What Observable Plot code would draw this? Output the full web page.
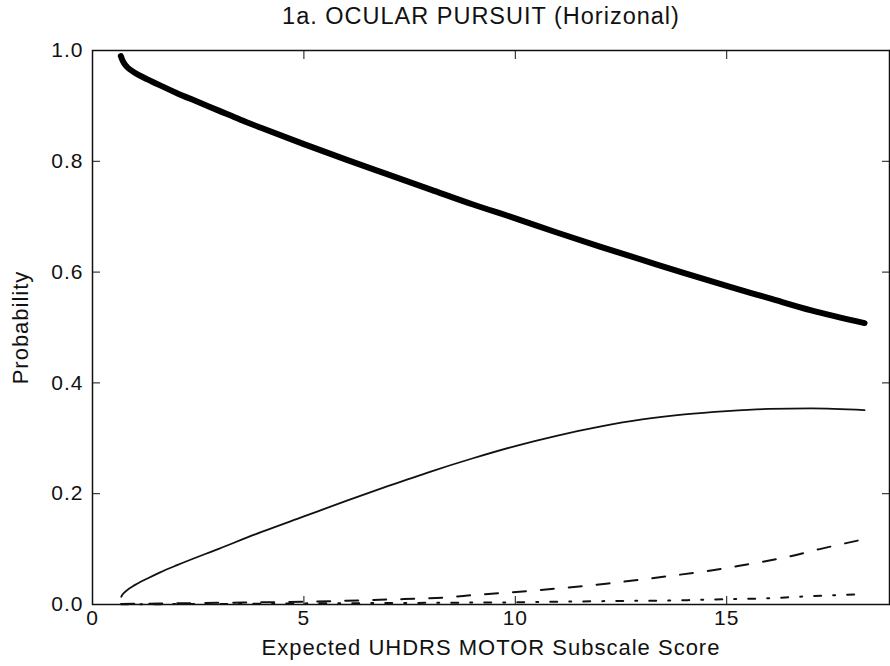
<!DOCTYPE html>
<html>
<head>
<meta charset="utf-8">
<script src="https://cdn.jsdelivr.net/npm/d3@7"></script>
<script src="https://cdn.jsdelivr.net/npm/@observablehq/plot@0.6"></script>
<style>
  body { margin: 0; background: #fff; }
  #chart { position: relative; width: 890px; height: 666px; font-family: "Liberation Sans", Arial, sans-serif; }
  #title { position: absolute; top: 1px; left: 0; width: 818px; padding-left: 72px; text-align: center; font-size: 23.5px; line-height: 30px; letter-spacing: 1px; white-space: nowrap; color: #111; }
  #chart svg text { letter-spacing: 1px; }
</style>
</head>
<body>
<div id="chart"><div id="title"></div></div>
<script>
// Text
const title = "1a. OCULAR PURSUIT (Horizonal)";
const xLabel = "Expected UHDRS MOTOR Subscale Score";
const yLabel = "Probability";
const xTicks = [0, 5, 10, 15];
const yTicks = [0, 0.2, 0.4, 0.6, 0.8, 1.0];

// Predicted probability of each item score along the expected motor score
const score0X = [0.67, 0.70, 0.74, 0.82, 1.0, 1.3, 1.6, 2.0, 2.5, 3.0, 3.5, 4.0, 5, 6, 7, 8, 9, 10, 11, 12, 13, 14, 15, 16, 17, 18.26];
const score0Y = [0.990, 0.984, 0.978, 0.970, 0.960, 0.948, 0.937, 0.923, 0.907, 0.891, 0.875, 0.860, 0.831, 0.803, 0.776, 0.749, 0.722, 0.697, 0.671, 0.646, 0.622, 0.598, 0.575, 0.553, 0.531, 0.508];

const score1X = [0.68, 0.72, 0.82, 1.0, 1.3, 1.6, 2, 3, 4, 5, 6, 7, 8, 9, 10, 11, 12, 13, 14, 15, 16, 17, 18.26];
const score1Y = [0.014, 0.019, 0.026, 0.035, 0.047, 0.058, 0.071, 0.101, 0.131, 0.159, 0.187, 0.214, 0.240, 0.264, 0.286, 0.305, 0.321, 0.334, 0.343, 0.349, 0.353, 0.354, 0.351];

const score2X = [0.68, 3, 5, 7, 8.4, 9.0, 10.4, 12.2, 13.7, 14.5, 15.3, 16.5, 17.2, 18.26];
const score2Y = [0.001, 0.003, 0.005, 0.009, 0.013, 0.017, 0.025, 0.038, 0.052, 0.060, 0.070, 0.087, 0.100, 0.118];

const score3X = [0.68, 3, 5, 8, 10, 12, 12.8, 13.6, 14.4, 15.1, 15.9, 16.7, 18.26];
const score3Y = [0.0005, 0.001, 0.002, 0.003, 0.004, 0.006, 0.0067, 0.007, 0.0085, 0.0096, 0.011, 0.014, 0.019];

const rows = (xs, ys) => d3.zip(xs, ys).map(([x, y]) => ({x, y}));

document.getElementById("title").textContent = title;

const chart = Plot.plot({
  width: 890,
  height: 666,
  marginTop: 50,
  marginRight: 1,
  marginBottom: 62,
  marginLeft: 92,
  style: { fontFamily: "Liberation Sans, Arial, sans-serif", fontSize: "21px", color: "#111", background: "transparent" },
  x: { domain: [0, 18.85] },
  y: { domain: [0, 1] },
  marks: [
    // bottom axis: inward ticks with labels, then the axis title on its own
    Plot.axisX({ anchor: "bottom", ticks: xTicks, tickSize: -8, tickPadding: 14, tickFormat: d3.format("d"), label: null }),
    Plot.axisX({ anchor: "bottom", ticks: [], label: xLabel, labelAnchor: "center", labelOffset: 50, labelArrow: "none", fontSize: 22 }),
    Plot.axisX({ anchor: "top", ticks: xTicks, tickSize: -8, tickFormat: () => "", label: null }),
    // left axis
    Plot.axisY({ anchor: "left", ticks: yTicks, tickSize: -8, tickPadding: 17, tickFormat: d3.format(".1f"), label: null }),
    Plot.axisY({ anchor: "left", ticks: [], label: yLabel, labelAnchor: "center", labelOffset: 80, labelArrow: "none", fontSize: 22 }),
    Plot.axisY({ anchor: "right", ticks: yTicks, tickSize: -8, tickFormat: () => "", label: null }),
    // probability curves, one per item score
    Plot.line(rows(score3X, score3Y), { x: "x", y: "y", curve: "monotone-x", stroke: "#111", strokeWidth: 2, strokeDasharray: "7,12,2,12" }),
    Plot.line(rows(score2X, score2Y), { x: "x", y: "y", curve: "monotone-x", stroke: "#111", strokeWidth: 2, strokeDasharray: "13,15" }),
    Plot.line(rows(score1X, score1Y), { x: "x", y: "y", curve: "monotone-x", stroke: "#111", strokeWidth: 1.8 }),
    Plot.line(rows(score0X, score0Y), { x: "x", y: "y", curve: "monotone-x", stroke: "#000", strokeWidth: 6 }),
    Plot.frame({ stroke: "#111", strokeWidth: 1.5 })
  ]
});
document.getElementById("chart").appendChild(chart);
</script>
</body>
</html>
